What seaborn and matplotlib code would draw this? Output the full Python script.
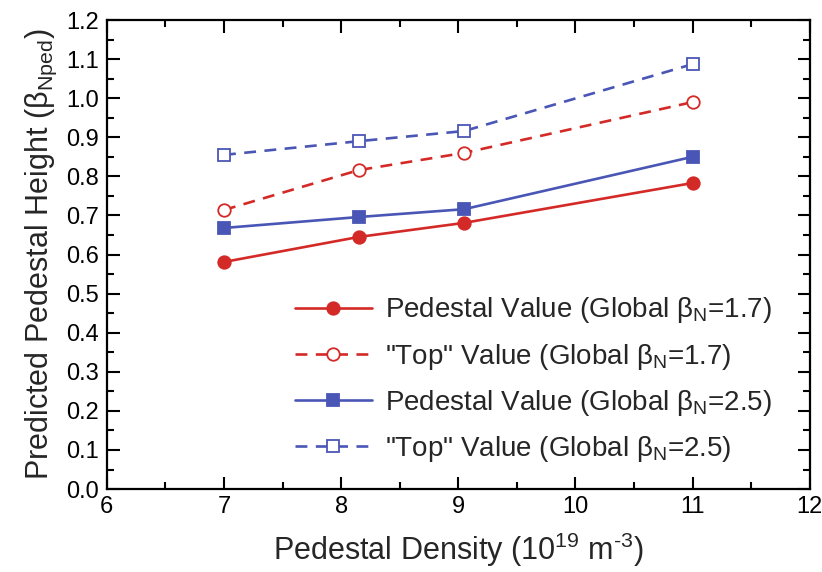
import matplotlib
matplotlib.use("Agg")
import matplotlib.pyplot as plt
import seaborn as sns
import pandas as pd
from matplotlib.ticker import MultipleLocator, FormatStrFormatter

density = [7.0, 8.15, 9.05, 11.0]
ped_17 = [0.581, 0.645, 0.681, 0.783]
top_17 = [0.714, 0.816, 0.860, 0.990]
ped_25 = [0.668, 0.696, 0.716, 0.850]
top_25 = [0.855, 0.890, 0.916, 1.087]

labels = [
    r"Pedestal Value (Global β$_\mathregular{N}$=1.7)",
    r'"Top" Value (Global β$_\mathregular{N}$=1.7)',
    r"Pedestal Value (Global β$_\mathregular{N}$=2.5)",
    r'"Top" Value (Global β$_\mathregular{N}$=2.5)',
]

sns.set_theme(style="ticks")
plt.rcParams["font.family"] = ["Liberation Sans", "DejaVu Sans"]
plt.rcParams["mathtext.fontset"] = "custom"
plt.rcParams["mathtext.rm"] = "Liberation Sans"
plt.rcParams["mathtext.it"] = "Liberation Sans:italic"
plt.rcParams["axes.unicode_minus"] = False

red = "#d42a27"
blue = "#4a56b5"

fig = plt.figure(figsize=(8.22, 5.72), dpi=100)
ax = fig.add_axes([0.130, 0.145, 0.855, 0.820])

series = [
    (ped_17, red, "-", "o", red),
    (top_17, red, "--", "o", "white"),
    (ped_25, blue, "-", "s", blue),
    (top_25, blue, "--", "s", "white"),
]
for (vals, col, ls, mk, fc), lab in zip(series, labels):
    df = pd.DataFrame({"x": density, "y": vals})
    sns.lineplot(data=df, x="x", y="y", ax=ax, color=col,
                 marker=mk, markerfacecolor=fc, markeredgecolor=col,
                 markersize=9, markeredgewidth=1.3, linewidth=1.9,
                 label=lab)
    line = ax.lines[-1]
    if ls == "--":
        line.set_linestyle((0, (4.5, 3.2)))

ax.set_xlim(6, 12)
ax.set_ylim(0, 1.2)
ax.xaxis.set_major_locator(MultipleLocator(1))
ax.xaxis.set_minor_locator(MultipleLocator(0.5))
ax.yaxis.set_major_locator(MultipleLocator(0.1))
ax.yaxis.set_minor_locator(MultipleLocator(0.05))
ax.yaxis.set_major_formatter(FormatStrFormatter("%.1f"))
ax.tick_params(which="both", direction="in", top=True, right=True,
               width=1.5, labelsize=17, colors="black")
ax.tick_params(which="major", length=9)
ax.tick_params(which="minor", length=5)
ax.tick_params(axis="x", which="major", pad=5)
ax.tick_params(axis="y", which="major", pad=6)
for s in ax.spines.values():
    s.set_linewidth(1.6)
    s.set_color("black")

ax.set_xlabel("Pedestal Density (10$^\\mathregular{19}$ m$^\\mathregular{‐3}$)",
              fontsize=22, labelpad=9)
ax.set_ylabel(r"Predicted Pedestal Height (β$_\mathregular{Nped}$)",
              fontsize=22, labelpad=5)

leg = ax.legend(loc="lower left", frameon=False, fontsize=20,
                handlelength=2.8, labelspacing=0.58, handletextpad=0.45,
                borderpad=0, borderaxespad=0,
                bbox_to_anchor=(0.267, 0.054))

fig.savefig("out.png", dpi=100)
